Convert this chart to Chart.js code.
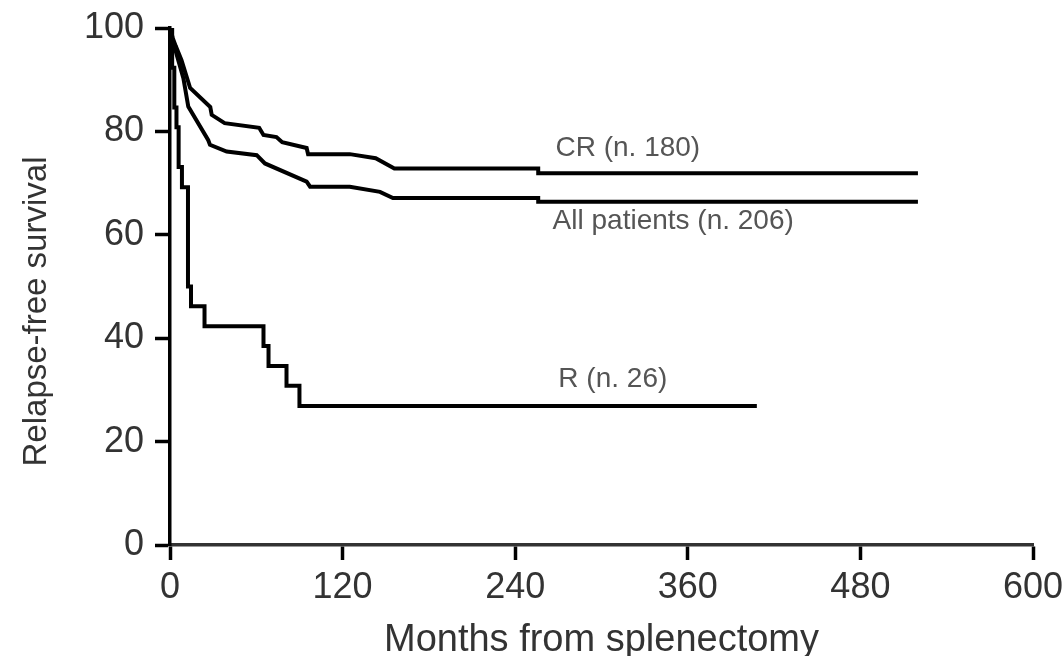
<!DOCTYPE html>
<html>
<head>
<meta charset="utf-8">
<script src="https://cdn.jsdelivr.net/npm/chart.js@4"></script>
<style>
  html, body { margin: 0; padding: 0; background: #fff; }
  #wrap { width: 1063px; height: 656px; }
</style>
</head>
<body>
<div id="wrap"><canvas id="kmChart"></canvas></div>
<script>
// Kaplan-Meier curves, values (months, % relapse-free)
var crMonths = [0, 2, 4, 8, 14, 28, 29, 38, 62, 65, 74, 78, 95, 96, 125, 143, 156, 256, 256, 520];
var crValues = [100, 98, 96.5, 93.8, 88.4, 84.7, 83.2, 81.6, 80.7, 79.3, 78.9, 77.9, 76.8, 75.6, 75.6, 74.8, 72.8, 72.8, 71.9, 71.9];

var allMonths = [0, 2, 5, 9.3, 12.7, 26.6, 27.8, 39.4, 60.3, 66, 95, 97.4, 125, 146, 155, 256, 256, 520];
var allValues = [100, 97.5, 94.5, 90.3, 84.8, 78.3, 77.4, 76.1, 75.4, 73.8, 70.3, 69.3, 69.3, 68.3, 67.1, 67.1, 66.4, 66.4];

var rMonths = [0, 1.5, 3, 4.5, 6, 8.3, 12.5, 14.6, 24, 65, 68.5, 81, 90, 408];
var rValues = [100, 92.3, 84.6, 80.8, 73.1, 69.2, 50, 46.2, 42.3, 38.5, 34.6, 30.8, 26.9, 26.9];

var xTicks = [0, 120, 240, 360, 480, 600];
var yTicks = [0, 20, 40, 60, 80, 100];

var labelTexts = ["CR (n. 180)", "All patients (n. 206)", "R (n. 26)"];
var labelMonths = [268, 266, 270];
var labelValues = [76.7, 62.6, 32];

var yTitle = 'Relapse-free survival';

function toPoints(xs, ys) {
    return xs.map(function (x, i) { return { x: x, y: ys[i] }; });
}

// text labels next to the curves + the y axis title (sits a bit below centre)
var curveLabels = {
    id: 'curveLabels',
    afterDatasetsDraw: function (chart) {
        var c = chart.ctx;
        var xs = chart.scales.x, ys = chart.scales.y;
        var area = chart.chartArea;
        c.save();
        c.font = '28px "Liberation Sans", Arial, sans-serif';
        c.fillStyle = '#555';
        c.textAlign = 'left';
        c.textBaseline = 'middle';
        for (var i = 0; i < labelTexts.length; i++) {
            c.fillText(labelTexts[i], xs.getPixelForValue(labelMonths[i]), ys.getPixelForValue(labelValues[i]));
        }
        c.restore();

        c.save();
        c.font = '33px "Liberation Sans", Arial, sans-serif';
        c.fillStyle = '#333';
        c.textAlign = 'center';
        c.textBaseline = 'middle';
        c.translate(37, (area.top + area.bottom) / 2 + 25);
        c.rotate(-Math.PI / 2);
        c.fillText(yTitle, 0, 0);
        c.restore();
    }
};

var tickFont = { family: '"Liberation Sans", Arial, sans-serif', size: 36 };

var ctx = document.getElementById("kmChart").getContext('2d');
var kmChart = new Chart(ctx, {
    type: 'line',
    data: {
        datasets: [{
            label: "CR",
            data: toPoints(crMonths, crValues),
            borderColor: "#000",
            borderWidth: 4,
            pointRadius: 0,
            fill: false
        }, {
            label: "All patients",
            data: toPoints(allMonths, allValues),
            borderColor: "#000",
            borderWidth: 4,
            pointRadius: 0,
            fill: false
        }, {
            label: "R",
            data: toPoints(rMonths, rValues),
            borderColor: "#000",
            borderWidth: 4,
            pointRadius: 0,
            stepped: true,
            fill: false
        }]
    },
    options: {
        responsive: true,
        maintainAspectRatio: false,
        animation: false,
        layout: {
            padding: { top: 28, right: 30, left: 0, bottom: 0 }
        },
        scales: {
            x: {
                type: 'linear',
                min: 0,
                max: 600,
                afterFit: function (scale) {
                    scale.height = 111;
                    scale.paddingLeft = 0;
                    scale.paddingRight = 0;
                },
                afterBuildTicks: function (scale) {
                    scale.ticks = xTicks.map(function (v) { return { value: v }; });
                },
                border: { color: '#333', width: 3.5 },
                grid: {
                    drawOnChartArea: false,
                    drawTicks: true,
                    tickLength: 15,
                    tickWidth: 3.5,
                    tickColor: '#000'
                },
                ticks: {
                    font: tickFont,
                    color: '#333',
                    padding: 6,
                    maxRotation: 0
                },
                title: {
                    display: true,
                    text: 'Months from splenectomy',
                    color: '#333',
                    font: { family: '"Liberation Sans", Arial, sans-serif', size: 38, lineHeight: 0.8 },
                    padding: { top: 0, bottom: 0 }
                }
            },
            y: {
                min: 0,
                max: 100,
                afterFit: function (scale) {
                    scale.width = 170;
                    scale.paddingTop = 0;
                    scale.paddingBottom = 0;
                },
                afterBuildTicks: function (scale) {
                    scale.ticks = yTicks.map(function (v) { return { value: v }; });
                },
                border: { color: '#000', width: 3.5 },
                grid: {
                    drawOnChartArea: false,
                    drawTicks: true,
                    tickLength: 15,
                    tickWidth: 3.5,
                    tickColor: '#000'
                },
                ticks: {
                    font: tickFont,
                    color: '#333',
                    padding: 11
                },
                title: { display: false }
            }
        },
        plugins: {
            legend: { display: false },
            tooltip: { enabled: false }
        }
    },
    plugins: [curveLabels]
});
</script>
</body>
</html>
